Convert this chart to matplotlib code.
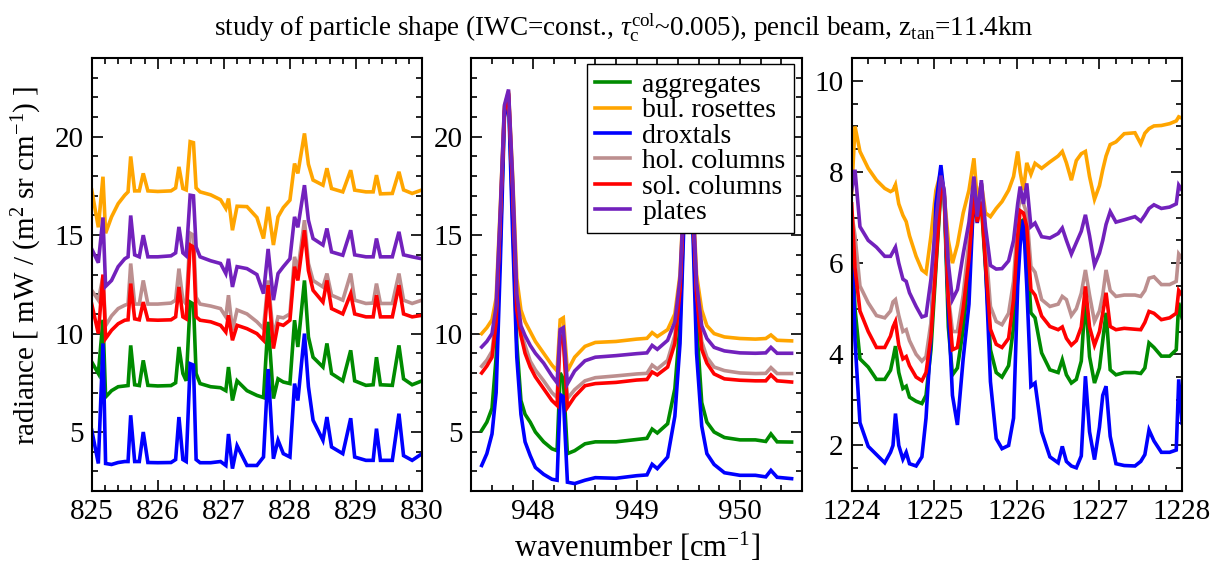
import matplotlib
matplotlib.use("Agg")
import matplotlib.pyplot as plt
from matplotlib.ticker import MultipleLocator

plt.rcParams['font.family'] = 'Liberation Serif'
plt.rcParams['mathtext.fontset'] = 'custom'
plt.rcParams['mathtext.rm'] = 'Liberation Serif'
plt.rcParams['mathtext.it'] = 'Liberation Serif:italic'
plt.rcParams['mathtext.bf'] = 'Liberation Serif:bold'

# ---------------------------------------------------------------- series
series_labels = ["aggregates", "bul. rosettes", "droxtals",
                 "hol. columns", "sol. columns", "plates"]
series_colors = ["#008b00", "#ffa500", "#0000ff", "#bc8f8f", "#ff0000", "#7221bc"]

# ---------------------------------------------------------------- 825-830 cm-1 window
wn_825 = [825.0, 825.1, 825.17, 825.21, 825.3, 825.4, 825.5, 825.55, 825.59, 825.65,
          825.72, 825.78, 825.85, 826.0, 826.2, 826.27, 826.32, 826.38, 826.43, 826.49,
          826.54, 826.58, 826.64, 826.8, 826.95, 827.03, 827.07, 827.13, 827.2, 827.35,
          827.5, 827.6, 827.67, 827.75, 827.82, 827.9, 828.0, 828.07, 828.12, 828.22,
          828.28, 828.35, 828.5, 828.56, 828.63, 828.8, 828.92, 828.98, 829.15, 829.26,
          829.31, 829.37, 829.55, 829.65, 829.72, 829.85, 830.0]

agg_825 = [8.56, 7.97, 10.7, 6.78, 7.1, 7.3, 7.34, 7.36, 9.4, 7.4,
           7.36, 8.64, 7.37, 7.34, 7.36, 7.5, 9.32, 7.97, 7.6, 11.6,
           11.5, 7.97, 7.46, 7.3, 7.25, 7.1, 8.3, 6.6, 7.6, 7.1,
           6.86, 6.75, 10.6, 6.7, 7.7, 7.54, 7.46, 10.68, 9.32, 12.7,
           9.83, 8.8, 8.3, 9.5, 7.97, 7.6, 9.15, 7.6, 7.37, 7.4,
           8.8, 7.4, 7.37, 9.4, 7.7, 7.4, 7.6]
ros_825 = [17.3, 15.4, 17.97, 15.1, 15.93, 16.6, 17.03, 17.2, 19.0, 17.25,
           17.25, 18.14, 17.25, 17.22, 17.25, 17.4, 18.47, 17.37, 17.3, 19.75,
           19.7, 17.4, 17.2, 17.05, 16.8, 16.36, 16.86, 15.25, 16.47, 16.45,
           15.9, 14.83, 16.44, 14.5, 15.93, 16.4, 16.78, 18.64, 18.14, 20.17,
           18.6, 17.8, 17.54, 18.4, 17.37, 17.2, 18.3, 17.29, 17.2, 17.2,
           18.05, 17.1, 17.12, 18.22, 17.3, 17.12, 17.3]
drox_825 = [5.1, 3.4, 9.5, 3.4, 3.35, 3.45, 3.5, 3.5, 5.85, 3.5,
            3.5, 5.0, 3.45, 3.44, 3.45, 3.6, 5.76, 3.6, 3.5, 8.47,
            8.4, 3.6, 3.44, 3.44, 3.5, 3.3, 4.9, 3.14, 4.3, 3.3,
            3.3, 3.73, 8.2, 3.64, 4.58, 3.9, 3.73, 7.46, 6.6, 10.0,
            7.3, 5.6, 4.58, 5.76, 4.24, 3.9, 5.7, 3.73, 3.56, 3.56,
            5.17, 3.56, 3.56, 5.93, 3.8, 3.56, 3.9]
hol_825 = [12.2, 11.7, 12.9, 10.4, 10.9, 11.27, 11.44, 11.5, 13.56, 11.5,
           11.5, 12.7, 11.5, 11.5, 11.55, 11.7, 13.3, 11.7, 11.5, 15.1,
           15.0, 11.85, 11.5, 11.4, 11.27, 10.85, 11.95, 10.17, 11.2, 11.0,
           10.6, 10.25, 12.7, 9.83, 10.85, 10.8, 11.0, 13.9, 13.2, 15.76,
           13.56, 12.7, 12.37, 13.05, 11.95, 11.7, 13.05, 11.7, 11.53, 11.55,
           12.54, 11.53, 11.53, 13.05, 11.7, 11.53, 11.7]
sol_825 = [11.5, 10.0, 13.0, 9.75, 10.17, 10.5, 10.68, 10.7, 12.54, 10.75,
           10.7, 11.6, 10.7, 10.68, 10.7, 10.85, 12.37, 10.85, 10.75, 14.5,
           14.4, 10.85, 10.68, 10.6, 10.42, 10.08, 10.93, 9.66, 10.42, 10.25,
           10.0, 9.66, 12.46, 9.24, 10.5, 10.42, 10.68, 13.4, 12.7, 15.25,
           13.2, 12.2, 11.6, 12.7, 11.27, 11.0, 12.03, 11.0, 10.85, 10.85,
           11.95, 10.85, 10.85, 12.46, 11.0, 10.85, 10.93]
plate_825 = [14.3, 13.6, 15.9, 12.4, 12.7, 13.4, 13.8, 13.9, 16.0, 14.0,
             13.9, 15.0, 13.9, 13.9, 13.95, 14.1, 15.42, 14.1, 13.95, 17.03,
             17.0, 14.4, 13.9, 13.7, 13.56, 13.05, 13.8, 12.37, 13.4, 13.3,
             13.0, 12.03, 14.3, 11.7, 13.05, 13.4, 13.8, 15.93, 15.4, 17.54,
             15.76, 14.83, 14.5, 15.34, 14.15, 13.98, 15.25, 14.0, 13.9, 13.9,
             14.83, 13.9, 13.9, 15.17, 14.0, 13.9, 13.8]

# ---------------------------------------------------------------- 947.5-950.5 cm-1 window
wn_948 = [947.5, 947.55, 947.6, 947.64, 947.68, 947.72, 947.76, 947.8, 947.84, 947.88,
          947.92, 947.97, 948.02, 948.1, 948.18, 948.23, 948.26, 948.29, 948.33, 948.4,
          948.5, 948.6, 948.8, 949.0, 949.1, 949.15, 949.2, 949.3, 949.37, 949.42,
          949.46, 949.5, 949.54, 949.58, 949.63, 949.68, 949.75, 949.85, 950.0, 950.15,
          950.25, 950.3, 950.36, 950.5]

agg_948 = [5.08, 5.5, 6.2, 8.8, 14.5, 21.2, 22.1, 16.0, 9.5, 6.6,
           5.9, 5.5, 5.0, 4.5, 4.15, 4.05, 8.0, 7.7, 3.9, 4.05,
           4.4, 4.5, 4.5, 4.62, 4.68, 5.15, 4.95, 5.42, 7.2, 10.5,
           16.5, 21.0, 16.5, 10.5, 6.5, 5.5, 5.0, 4.72, 4.6, 4.6,
           4.52, 4.9, 4.5, 4.49]
ros_948 = [10.0, 10.3, 10.7, 11.8, 16.4, 21.5, 22.3, 18.0, 12.8, 11.2,
           10.6, 10.1, 9.6, 9.0, 8.4, 8.1, 10.7, 10.8, 8.1, 8.8,
           9.35, 9.55, 9.6, 9.72, 9.76, 10.05, 9.85, 10.2, 11.0, 13.0,
           17.5, 21.0, 17.5, 13.0, 11.2, 10.4, 10.0, 9.83, 9.75, 9.72,
           9.75, 9.93, 9.66, 9.63]
drox_948 = [3.3, 3.9, 4.9, 7.0, 13.5, 21.0, 22.0, 15.0, 8.8, 5.9,
            4.5, 3.8, 3.2, 2.85, 2.6, 2.55, 6.9, 6.8, 2.45, 2.38,
            2.55, 2.68, 2.65, 2.78, 2.82, 3.36, 3.14, 3.73, 5.8, 9.5,
            16.0, 21.0, 16.0, 9.0, 5.3, 3.9, 3.35, 2.93, 2.8, 2.8,
            2.72, 3.05, 2.7, 2.63]
hol_948 = [8.34, 8.65, 9.1, 10.9, 16.0, 21.4, 22.2, 17.5, 11.5, 10.1,
           9.4, 8.6, 8.15, 7.6, 7.0, 6.75, 10.15, 10.0, 6.7, 7.15,
           7.6, 7.76, 7.85, 7.95, 7.98, 8.4, 8.2, 8.64, 9.9, 12.5,
           17.2, 21.0, 17.2, 12.2, 9.6, 8.8, 8.3, 8.12, 8.0, 7.97,
           7.98, 8.27, 7.97, 7.97]
sol_948 = [8.0, 8.35, 8.8, 10.6, 15.8, 21.3, 22.2, 17.3, 11.2, 9.9,
           9.0, 8.3, 7.8, 7.2, 6.6, 6.35, 9.9, 9.7, 6.25, 6.8,
           7.35, 7.46, 7.52, 7.64, 7.67, 8.05, 7.9, 8.3, 9.5, 12.2,
           17.0, 21.0, 17.0, 12.0, 9.2, 8.5, 7.95, 7.7, 7.63, 7.6,
           7.6, 7.9, 7.6, 7.54]
plate_948 = [9.32, 9.6, 10.0, 11.4, 16.2, 21.6, 22.4, 17.8, 12.0, 10.4,
             9.9, 9.4, 9.0, 8.5, 7.85, 7.5, 10.2, 10.3, 7.45, 8.1,
             8.62, 8.8, 8.88, 8.98, 9.02, 9.4, 9.2, 9.66, 10.6, 12.8,
             17.3, 21.0, 17.3, 12.6, 10.4, 9.75, 9.3, 9.12, 9.02, 9.0,
             9.02, 9.3, 9.0, 9.0]

# ---------------------------------------------------------------- 1224-1228 cm-1 window
wn_1224 = [1224.0, 1224.04, 1224.1, 1224.2, 1224.3, 1224.4, 1224.47, 1224.5, 1224.53, 1224.57,
           1224.62, 1224.66, 1224.7, 1224.78, 1224.85, 1224.9, 1224.96, 1225.02, 1225.08, 1225.12,
           1225.17, 1225.22, 1225.28, 1225.35, 1225.42, 1225.48, 1225.52, 1225.57, 1225.62, 1225.68,
           1225.75, 1225.82, 1225.9, 1225.96, 1226.01, 1226.04, 1226.08, 1226.12, 1226.17, 1226.22,
           1226.3, 1226.4, 1226.5, 1226.55, 1226.6, 1226.66, 1226.72, 1226.78, 1226.83, 1226.88,
           1226.94, 1227.0, 1227.04, 1227.08, 1227.13, 1227.2, 1227.3, 1227.43, 1227.5, 1227.55,
           1227.6, 1227.66, 1227.75, 1227.85, 1227.93, 1227.96, 1228.0]

agg_1224 = [6.7, 5.0, 3.9, 3.72, 3.45, 3.45, 3.65, 3.9, 4.18, 3.6,
            3.25, 3.3, 3.06, 2.97, 2.92, 3.1, 4.1, 5.9, 7.6, 7.5,
            4.6, 3.55, 3.7, 4.55, 5.8, 7.4, 6.95, 7.3, 5.9, 4.1,
            3.6, 3.5, 3.75, 4.6, 6.2, 6.9, 6.95, 6.4, 4.91, 4.8,
            4.03, 3.66, 3.6, 3.88, 3.55, 3.37, 3.45, 3.85, 5.27, 3.95,
            3.37, 3.7, 4.3, 4.91, 3.66, 3.55, 3.6, 3.6, 3.58, 3.7,
            4.25, 4.15, 3.96, 3.96, 4.1, 5.13, 4.8]
ros_1224 = [7.55, 9.0, 8.45, 8.08, 7.82, 7.64, 7.57, 7.6, 7.72, 7.3,
            7.05, 6.91, 6.6, 6.15, 5.85, 5.78, 6.6, 7.6, 8.0, 7.5,
            6.5, 6.0, 6.4, 7.1, 7.6, 8.3, 7.4, 7.75, 7.1, 7.02,
            7.2, 7.35, 7.6, 7.9, 8.45, 8.0, 7.6, 8.2, 7.95, 8.19,
            8.08, 8.22, 8.35, 8.45, 8.2, 7.82, 8.25, 8.4, 8.45, 7.9,
            7.4, 7.7, 8.05, 8.35, 8.6, 8.66, 8.84, 8.86, 8.62, 8.85,
            8.95, 9.01, 9.02, 9.06, 9.12, 9.21, 9.18]
drox_1224 = [7.0, 4.3, 2.5, 1.98, 1.8, 1.62, 1.85, 2.0, 2.7, 2.0,
             1.7, 1.85, 1.6, 1.55, 1.75, 2.6, 4.4, 7.3, 8.15, 7.5,
             5.0, 3.1, 2.45, 3.9, 5.1, 7.6, 6.88, 7.75, 6.0, 3.4,
             2.15, 1.93, 2.0, 2.6, 5.5, 6.4, 6.95, 5.5, 3.3, 3.37,
             2.3, 1.75, 1.62, 1.98, 1.65, 1.55, 1.51, 1.77, 3.52, 2.3,
             1.69, 2.4, 3.1, 3.3, 2.2, 1.6, 1.56, 1.55, 1.65, 1.8,
             2.34, 2.1, 1.85, 1.85, 1.9, 3.45, 2.49]
hol_1224 = [7.1, 6.6, 5.5, 5.13, 4.85, 4.8, 4.95, 5.15, 5.2, 4.85,
            4.5, 4.54, 4.3, 4.0, 3.85, 3.95, 4.7, 6.3, 7.85, 7.6,
            5.3, 4.5, 4.5, 5.3, 6.5, 7.75, 7.17, 7.6, 6.45, 5.05,
            4.72, 4.65, 4.9, 5.6, 7.0, 7.5, 7.3, 7.1, 5.93, 5.8,
            5.2, 5.05, 5.1, 5.27, 5.2, 4.85, 5.0, 5.34, 5.85, 5.3,
            4.72, 4.95, 5.3, 5.85, 5.4, 5.27, 5.3, 5.3, 5.27, 5.4,
            5.67, 5.7, 5.53, 5.53, 5.6, 6.2, 6.1]
sol_1224 = [7.3, 5.9, 4.95, 4.5, 4.15, 4.15, 4.4, 4.6, 4.72, 4.2,
            3.9, 3.95, 3.75, 3.5, 3.42, 3.6, 4.4, 6.0, 7.7, 7.55,
            5.2, 4.1, 4.15, 5.0, 6.1, 7.5, 6.9, 7.35, 6.0, 4.55,
            4.22, 4.15, 4.35, 5.2, 6.6, 7.15, 7.1, 6.8, 5.42, 5.3,
            4.84, 4.61, 4.54, 4.6, 4.35, 4.2, 4.3, 4.6, 5.49, 4.6,
            4.2, 4.5, 4.9, 5.35, 4.61, 4.54, 4.57, 4.55, 4.54, 4.7,
            4.94, 4.9, 4.76, 4.8, 4.9, 5.4, 5.3]
plate_1224 = [7.6, 8.05, 6.8, 6.5, 6.35, 6.15, 6.15, 6.25, 6.35, 6.0,
              5.65, 5.6, 5.35, 5.05, 4.82, 4.85, 5.65, 6.95, 7.92, 7.6,
              6.0, 5.2, 5.42, 6.2, 6.9, 7.9, 7.02, 7.82, 6.8, 5.95,
              5.87, 5.88, 6.05, 6.5, 7.3, 7.68, 7.3, 7.75, 6.8, 6.88,
              6.58, 6.55, 6.65, 6.77, 6.5, 6.2, 6.45, 6.7, 7.06, 6.6,
              5.96, 6.22, 6.5, 6.85, 7.13, 6.9, 6.95, 7.02, 6.92, 7.05,
              7.2, 7.28, 7.2, 7.23, 7.3, 7.71, 7.6]

panels = [
    (wn_825, [agg_825, ros_825, drox_825, hol_825, sol_825, plate_825]),
    (wn_948, [agg_948, ros_948, drox_948, hol_948, sol_948, plate_948]),
    (wn_1224, [agg_1224, ros_1224, drox_1224, hol_1224, sol_1224, plate_1224]),
]

# ---------------------------------------------------------------- figure
fig = plt.figure(figsize=(12.23, 5.70), dpi=100)
axes_rects = [
    [0.0750, 0.1385, 0.2701, 0.7597],
    [0.3854, 0.1385, 0.2703, 0.7597],
    [0.6964, 0.1385, 0.2701, 0.7597],
]
xlims = [(825, 830), (947.4, 950.6), (1224, 1228)]
ylims = [(2, 24), (2, 24), (1, 10.5)]
xmajor = [1, 1, 1]
ymajor = [5, 5, 2]
yminor = [1, 1, 0.5]

axes = []
for rect, (wn, ys), xl, yl, xm, ym, ymi in zip(axes_rects, panels, xlims, ylims,
                                                 xmajor, ymajor, yminor):
    ax = fig.add_axes(rect)
    for vals, lab, col in zip(ys, series_labels, series_colors):
        assert len(vals) == len(wn)
        ax.plot(wn, vals, color=col, lw=2.6, label=lab, solid_joinstyle='miter')
    ax.xaxis.set_major_locator(MultipleLocator(xm))
    ax.xaxis.set_minor_locator(MultipleLocator(0.2))
    ax.yaxis.set_major_locator(MultipleLocator(ym))
    ax.yaxis.set_minor_locator(MultipleLocator(ymi))
    ax.set_xlim(*xl)
    ax.set_ylim(*yl)
    ax.tick_params(which='both', direction='in', top=True, right=True,
                   width=1.2, labelsize=21, pad=6)
    ax.tick_params(which='major', length=8)
    ax.tick_params(which='minor', length=4)
    for sp in ax.spines.values():
        sp.set_linewidth(1.5)
    axes.append(ax)

leg = axes[1].legend(loc='upper right', bbox_to_anchor=(0.976, 0.986),
                     borderaxespad=0, frameon=True, fancybox=False,
                     edgecolor='black', framealpha=1, fontsize=20,
                     handlelength=1.25, handletextpad=0.45, labelspacing=0.0,
                     borderpad=0.3)
leg.get_frame().set_linewidth(1.0)

fig.text(0.51, 0.951,
         r"study of particle shape (IWC=const., $\tau_{\mathrm{c}}^{\mathrm{col}}$~0.005), "
         r"pencil beam, $\mathrm{z}_{\mathrm{tan}}$=11.4km",
         ha='center', va='center', fontsize=19.5)
fig.text(0.022, 0.535, r"radiance [ mW / (m$^2$ sr cm$^{-1}$) ]",
         rotation=90, ha='center', va='center', fontsize=21)
fig.text(0.521, 0.04, r"wavenumber [cm$^{-1}$]", ha='center', va='center', fontsize=22)

fig.savefig("out.png", dpi=100)
